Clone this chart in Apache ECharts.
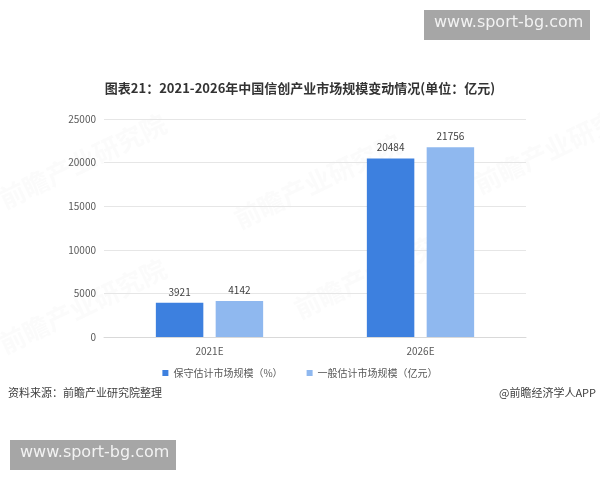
<!DOCTYPE html>
<html>
<head>
<meta charset="utf-8">
<script src="https://cdn.jsdelivr.net/npm/echarts@6/dist/echarts.min.js"></script>
<style>html,body{margin:0;padding:0;background:#fff;}#c{width:600px;height:480px;}</style>
</head>
<body>
<div id="c"></div>
<script>
const categories = ['2021E', '2026E'];
const conservative = [3921, 20484];
const general = [4142, 21756];
const seriesNames = ['保守估计市场规模（%）', '一般估计市场规模（亿元）'];
const yTicks = [0, 5000, 10000, 15000, 20000, 25000];

const FONT = '"Noto Sans CJK SC", "Noto Sans", sans-serif';
const chart = echarts.init(document.getElementById('c'));

function wm(x, y) {
  return {
    type: 'text', left: x, top: y, rotation: Math.PI / 7, silent: true, z: 0,
    style: { text: '前瞻产业研究院', fill: 'rgba(210,210,210,0.09)', font: 'bold 26px ' + FONT }
  };
}

chart.setOption({
  backgroundColor: '#fff',
  textStyle: { fontFamily: FONT },
  title: {
    text: '图表21：2021-2026年中国信创产业市场规模变动情况(单位：亿元)',
    left: 'center', top: 77,
    textStyle: { fontSize: 13, fontWeight: 'bold', color: '#333', fontFamily: FONT }
  },
  legend: {
    data: seriesNames, top: 363, left: 'center', itemWidth: 6, itemHeight: 6, itemGap: 24,
    icon: 'rect',
    textStyle: { fontSize: 10, color: '#595959', fontFamily: FONT }
  },
  grid: { left: 104, right: 74, top: 119, bottom: 143, containLabel: false },
  xAxis: {
    type: 'category', data: categories,
    axisLine: { lineStyle: { color: '#d9d9d9' } },
    axisTick: { show: false },
    axisLabel: { color: '#595959', fontSize: 10, margin: 9 }
  },
  yAxis: {
    type: 'value', min: yTicks[0], max: yTicks[yTicks.length - 1], interval: 5000,
    axisLine: { show: false }, axisTick: { show: false },
    splitLine: { lineStyle: { color: '#e6e6e6' } },
    axisLabel: { color: '#595959', fontSize: 10, margin: 8, formatter: v => String(v) }
  },
  series: [
    {
      name: seriesNames[0], type: 'bar', data: conservative, barWidth: '22.5%', barGap: '26%',
      itemStyle: { color: '#3d80df' },
      label: { show: true, position: 'top', color: '#404040', fontSize: 10, distance: 6 }
    },
    {
      name: seriesNames[1], type: 'bar', data: general, barWidth: '22.5%',
      itemStyle: { color: '#8fb8ef' },
      label: { show: true, position: 'top', color: '#404040', fontSize: 10, distance: 6 }
    }
  ],
  graphic: [
    wm(-5, 110), wm(-5, 255), wm(230, 130), wm(290, 220), wm(470, 95),
    { type: 'text', left: 8, top: 387, style: { text: '资料来源：前瞻产业研究院整理', fill: '#404040', font: '11px ' + FONT } },
    { type: 'text', right: 4, top: 387, style: { text: '@前瞻经济学人APP', fill: '#404040', font: '11px ' + FONT, textAlign: 'right' } },
    { type: 'rect', left: 424, top: 10, shape: { width: 166, height: 30 }, style: { fill: '#a6a6a6' } },
    { type: 'text', left: 434, top: 15, style: { text: 'www.sport-bg.com', fill: '#f2f2f2', font: '16px "DejaVu Sans", sans-serif' } },
    { type: 'rect', left: 10, top: 440, shape: { width: 166, height: 30 }, style: { fill: '#a6a6a6' } },
    { type: 'text', left: 20, top: 445, style: { text: 'www.sport-bg.com', fill: '#f2f2f2', font: '16px "DejaVu Sans", sans-serif' } }
  ]
});
</script>
</body>
</html>
